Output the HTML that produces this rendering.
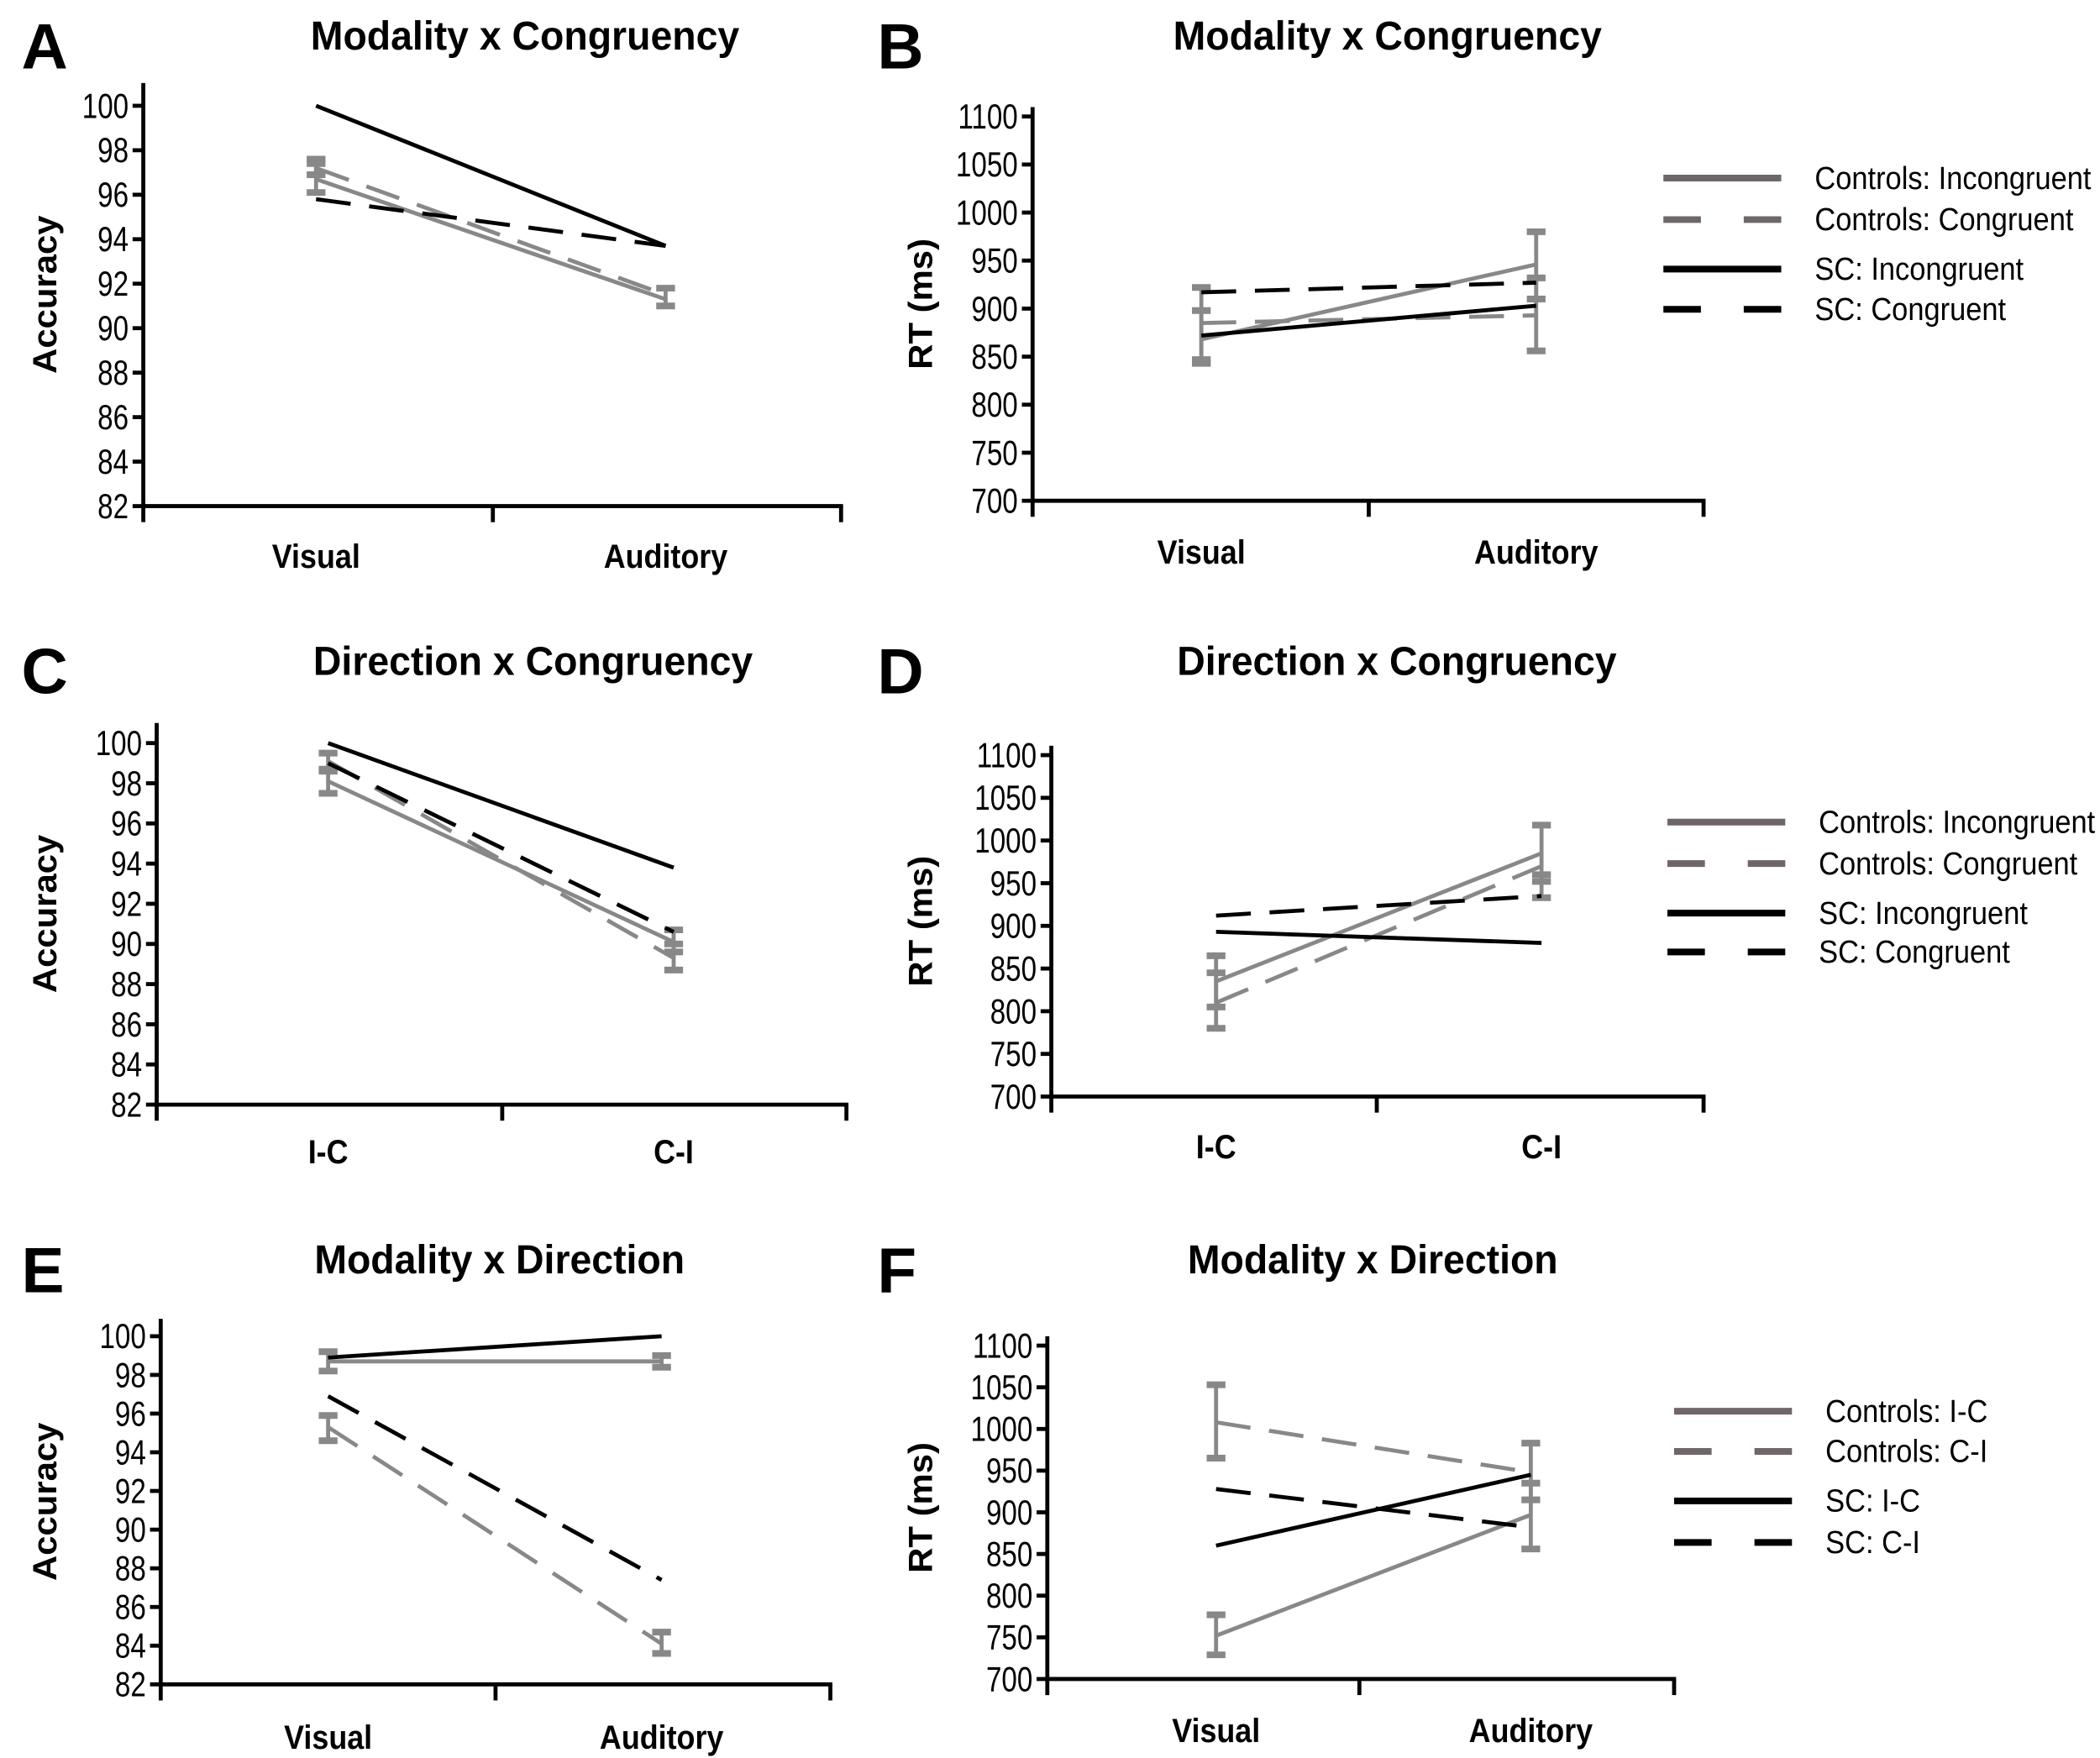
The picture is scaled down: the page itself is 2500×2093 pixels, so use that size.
<!DOCTYPE html>
<html><head><meta charset="utf-8"><style>
html,body{margin:0;padding:0;background:#fff}
svg{display:block}
text{font-family:"Liberation Sans",sans-serif}
</style></head><body>
<svg id="s" width="2500" height="2093" viewBox="0 0 1568 1313" preserveAspectRatio="none" xmlns="http://www.w3.org/2000/svg"></svg>
<script>
var h='';
var G='#888',LG='#6f6668';
function T(x,y,t,sz,w,anc,sx,rot){
 var tr='translate('+x+','+y+')'+(rot?' rotate(-90)':'')+' scale('+sx+',1)';
 h+='<text transform="'+tr+'" font-size="'+sz+'" font-weight="'+(w||'normal')+'" text-anchor="'+(anc||'middle')+'">'+t+'</text>';}
function L(x1,y1,x2,y2,c,w,d){h+='<line x1="'+x1+'" y1="'+y1+'" x2="'+x2+'" y2="'+y2+'" stroke="'+c+'" stroke-width="'+(w||3)+'"'+(d?' stroke-dasharray="'+d+'"':'')+'/>';}
function panel(p){
 var ax=p.ax;
 function Y(v){return p.bot-(v-p.vmin)/(p.vmax-p.vmin)*(p.bot-p.yt);}
 p.series.forEach(function(r){var c=r[0]?G:'#000',d=r[1]?'26,14':null;
  L(p.catx[0],Y(r[2]),p.catx[1],Y(r[3]),c,3,d);
  if(r[4]){r[4].forEach(function(e,k){if(!e)return;var x=p.catx[k];L(x,Y(e[0]),x,Y(e[1]),G,3);L(x-7,Y(e[0]),x+7,Y(e[0]),G,5);L(x-7,Y(e[1]),x+7,Y(e[1]),G,5);});}
 });
 L(ax,p.top,ax,p.bot+12,'#000',3);
 L(ax-1.5,p.bot,p.xr+1.5,p.bot,'#000',3);
 L(p.xmid,p.bot,p.xmid,p.bot+12,'#000',3);L(p.xr,p.bot,p.xr,p.bot+12,'#000',3);
 var n=Math.round((p.vmax-p.vmin)/p.step);
 for(var i=0;i<=n;i++){var v=p.vmin+i*p.step,y=Y(v);L(ax-8,y,ax,y,'#000',3);T(ax-11,y+9,v,26,'normal','end',0.8);}
 T(p.catx[0],p.laby,p.cats[0],25,'bold','middle',0.9);T(p.catx[1],p.laby,p.cats[1],25,'bold','middle',0.9);
 T(p.tx,p.ty,p.title,30,'bold','middle',0.97);
 T(p.lx,p.ty+14,p.letter,48,'bold','start',1);
 T(p.ylx,(p.top+p.bot)/2,p.ylab,25,'bold','middle',1.05,true);
 if(p.legend){p.legend.forEach(function(g,k){var y=p.legy[k];L(p.legx,y,p.legx+88,y,g[0]?LG:'#000',5,g[1]?'28,32':null);T(p.legx+113,y+8,g[2],24,'normal','start',0.9);});}
}
var LC=[[1,0,'Controls: Incongruent'],[1,1,'Controls: Congruent'],[0,0,'SC: Incongruent'],[0,1,'SC: Congruent']];
var LD=[[1,0,'Controls: I-C'],[1,1,'Controls: C-I'],[0,0,'SC: I-C'],[0,1,'SC: C-I']];
panel({ax:107,top:62,bot:378,xr:628,xmid:368,vmin:82,vmax:100,step:2,yt:79,cats:['Visual','Auditory'],catx:[236,497],laby:424,title:'Modality x Congruency',tx:392,ty:37,letter:'A',lx:16,ylx:42,ylab:'Accuracy',
 series:[[1,0,96.7,91.3,[[97.4,96.1],[91.8,91.0]]],[1,1,97.2,91.5,[[97.6,96.9],null]],[0,0,100,93.7],[0,1,95.8,93.7]]});
panel({ax:771,top:80,bot:374,xr:1272,xmid:1022,vmin:700,vmax:1100,step:50,yt:87,cats:['Visual','Auditory'],catx:[897,1147],laby:421,title:'Modality x Congruency',tx:1036,ty:37,letter:'B',lx:655,ylx:696,ylab:'RT (ms)',
 series:[[1,0,868,946,[[922,847],[980,910]]],[1,1,885,893,[[898,843],[932,856]]],[0,0,872,903],[0,1,917,927]],
 legend:LC,legx:1242,legy:[133,164,201,231]});
panel({ax:117,top:540,bot:825,xr:632,xmid:375,vmin:82,vmax:100,step:2,yt:555,cats:['I-C','C-I'],catx:[245,503],laby:869,title:'Direction x Congruency',tx:398,ty:504,letter:'C',lx:16,ylx:42,ylab:'Accuracy',
 series:[[1,0,98.1,90.1,[[98.6,97.5],[90.7,89.6]]],[1,1,99.1,89.3,[[99.5,98.7],[90.0,88.7]]],[0,0,100,93.8],[0,1,99,90.6]]});
panel({ax:785,top:557,bot:819,xr:1272,xmid:1028,vmin:700,vmax:1100,step:50,yt:564,cats:['I-C','C-I'],catx:[908,1151],laby:865,title:'Direction x Congruency',tx:1043,ty:504,letter:'D',lx:655,ylx:696,ylab:'RT (ms)',
 series:[[1,0,835,985,[[865,805],[1018,952]]],[1,1,810,970,[[845,780],[960,933]]],[0,0,893,880],[0,1,912,935]],
 legend:LC,legx:1245,legy:[614,645,682,711]});
panel({ax:120,top:985,bot:1258,xr:620,xmid:370,vmin:82,vmax:100,step:2,yt:998,cats:['Visual','Auditory'],catx:[245,494],laby:1306,title:'Modality x Direction',tx:373,ty:951,letter:'E',lx:16,ylx:42,ylab:'Accuracy',
 series:[[1,0,98.7,98.7,[[99.2,98.2],[99.0,98.4]]],[1,1,95.3,84.1,[[95.9,94.6],[84.7,83.6]]],[0,0,98.9,100],[0,1,96.9,87.4]]});
panel({ax:782,top:998,bot:1254,xr:1250,xmid:1015,vmin:700,vmax:1100,step:50,yt:1005,cats:['Visual','Auditory'],catx:[908,1143],laby:1301,title:'Modality x Direction',tx:1025,ty:951,letter:'F',lx:655,ylx:696,ylab:'RT (ms)',
 series:[[1,0,752,897,[[777,729],[935,915]]],[1,1,1008,948,[[1053,965],[983,856]]],[0,0,860,945],[0,1,928,882]],
 legend:LD,legx:1250,legy:[1054,1084,1121,1152]});
document.getElementById('s').innerHTML=h;
</script>
</body></html>
